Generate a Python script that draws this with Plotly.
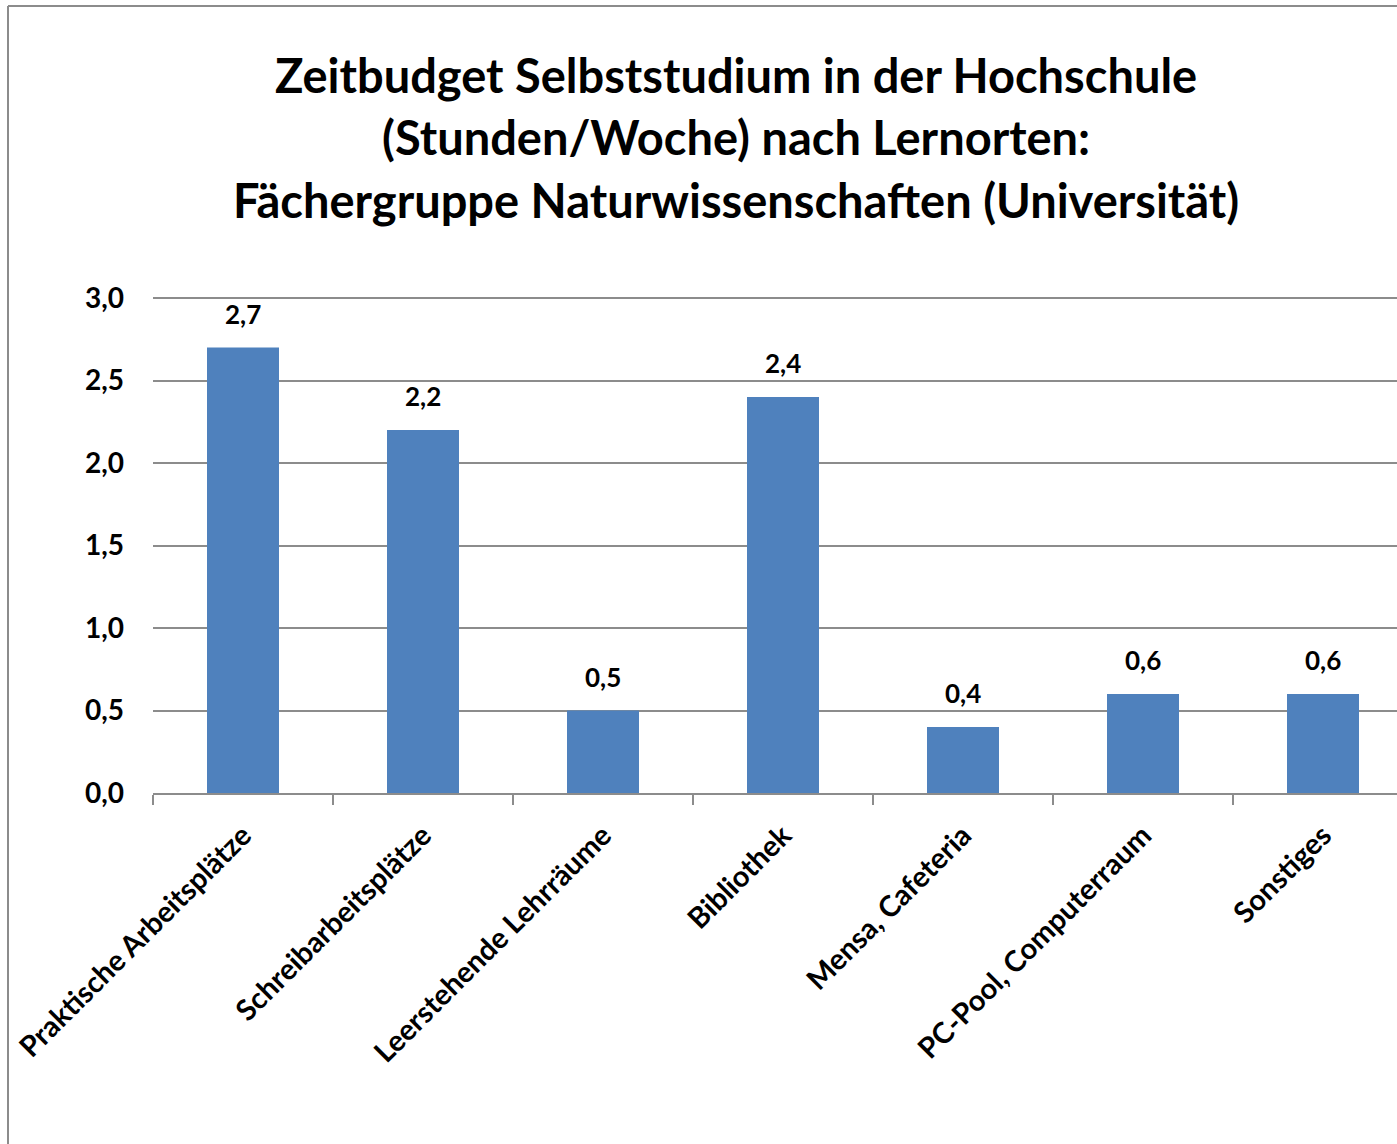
import plotly.graph_objects as go

categories = ["Praktische Arbeitsplätze", "Schreibarbeitsplätze", "Leerstehende Lehrräume",
              "Bibliothek", "Mensa, Cafeteria", "PC-Pool, Computerraum", "Sonstiges"]
values = [2.7, 2.2, 0.5, 2.4, 0.4, 0.6, 0.6]
value_labels = ["2,7", "2,2", "0,5", "2,4", "0,4", "0,6", "0,6"]
title_lines = ["Zeitbudget Selbststudium in der Hochschule",
               "(Stunden/Woche) nach Lernorten:",
               "Fächergruppe Naturwissenschaften (Universität)"]

FONT = "Lato"
W, H = 1397, 1144
PAD_TOP = 4                      # extra px above 3.0 so its gridline is drawn
L, R, T, B = 153, 0, 298 - PAD_TOP, 1144 - 793
pw = W - L - R
ph = H - T - B
PX_PER_UNIT = 165.0
y_top = 3.0 + PAD_TOP / PX_PER_UNIT

def px_x(x):
    return (x - L) / pw

def px_y(y):
    return (H - B - y) / ph

fig = go.Figure()
fig.add_trace(go.Bar(
    x=categories, y=values, width=0.4,
    marker=dict(color="#4F81BD", line=dict(width=0)),
    hoverinfo="skip",
))

annotations = []
for c, v, t in zip(categories, values, value_labels):
    annotations.append(dict(x=c, y=v, text=t, showarrow=False, xref="x", yref="y",
                            yanchor="bottom", yshift=16,
                            font=dict(family=FONT, size=26, color="black", weight="bold")))

title_y = [75, 137, 200]
for line, yy in zip(title_lines, title_y):
    annotations.append(dict(x=px_x(736), y=px_y(yy), xref="paper", yref="paper",
                            text=line, showarrow=False, xanchor="center", yanchor="middle",
                            font=dict(family=FONT, size=47, color="black", weight="bold")))

shapes = [
    dict(type="line", xref="paper", yref="paper", x0=px_x(8), x1=px_x(8),
         y0=px_y(1150), y1=px_y(6), line=dict(color="#8c8c8c", width=2)),
    dict(type="line", xref="paper", yref="paper", x0=px_x(8), x1=px_x(1400),
         y0=px_y(6), y1=px_y(6), line=dict(color="#8c8c8c", width=2)),
]

fig.update_layout(
    width=W, height=H,
    margin=dict(l=L, r=R, t=T, b=B, pad=0),
    paper_bgcolor="white", plot_bgcolor="white",
    separators=", ",
    showlegend=False,
    annotations=annotations,
    shapes=shapes,
    xaxis=dict(
        range=[-0.5, -0.5 + pw / 180.0],
        tickangle=-45,
        tickson="boundaries",
        ticks="outside", ticklen=10, tickcolor="#8c8c8c", tickwidth=2,
        showline=True, linecolor="#8c8c8c", linewidth=2,
        showgrid=False,
        ticklabelstandoff=12,
        tickfont=dict(family=FONT, size=29, color="black", weight="bold"),
    ),
    yaxis=dict(
        range=[0, y_top],
        tickvals=[0, 0.5, 1.0, 1.5, 2.0, 2.5, 3.0],
        tickformat=".1f",
        showgrid=True, gridcolor="#8c8c8c", gridwidth=2,
        zeroline=False, showline=False, ticks="",
        ticklabelstandoff=28,
        tickfont=dict(family=FONT, size=28, color="black", weight="bold"),
    ),
)

fig.write_html(
    "out.html",
    config={"displayModeBar": False},
    post_script="document.body.style.margin='0';document.body.style.overflow='hidden';",
)
